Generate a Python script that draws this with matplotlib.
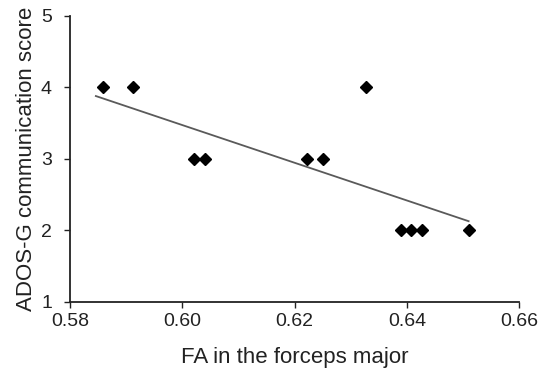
import matplotlib
matplotlib.use("Agg")
import matplotlib.pyplot as plt

fa = [0.5858, 0.5912, 0.6020, 0.6040, 0.6222, 0.6250, 0.6327, 0.6390, 0.6408, 0.6427, 0.6510]
score = [4, 4, 3, 3, 3, 3, 4, 2, 2, 2, 2]
trend_x = [0.5846, 0.6510]
trend_y = [3.88, 2.13]
xticks = [0.58, 0.60, 0.62, 0.64, 0.66]
xticklabels = ["0.58", "0.60", "0.62", "0.64", "0.66"]
yticks = [1, 2, 3, 4, 5]

plt.rcParams['font.family'] = ['Liberation Sans', 'DejaVu Sans']

fig = plt.figure(figsize=(5.43, 3.71), dpi=100)
ax = fig.add_axes([0.129, 0.186, 0.827, 0.771])

ax.plot(trend_x, trend_y, color='#5a5a5a', lw=1.3, zorder=2)
ax.plot(fa, score, linestyle='none', marker='D', markersize=6.5, color='black', zorder=3)

ax.set_xlim(0.58, 0.66)
ax.set_ylim(1, 5)
ax.set_xticks(xticks)
ax.set_xticklabels(xticklabels)
ax.set_yticks(yticks)
for s in ['top', 'right']:
    ax.spines[s].set_visible(False)
for s in ['left', 'bottom']:
    ax.spines[s].set_linewidth(1.3)
    ax.spines[s].set_color('#222222')
ax.tick_params(axis='both', direction='out', length=4, width=1, labelsize=14, colors='#222222')
ax.tick_params(axis='x', pad=4)
ax.tick_params(axis='y', pad=9)
ax.set_xlabel("FA in the forceps major", fontsize=16, color='#222222', labelpad=12)
ax.set_ylabel("ADOS-G communication score", fontsize=16, color='#222222', labelpad=3)

fig.savefig("out.png", dpi=100)
